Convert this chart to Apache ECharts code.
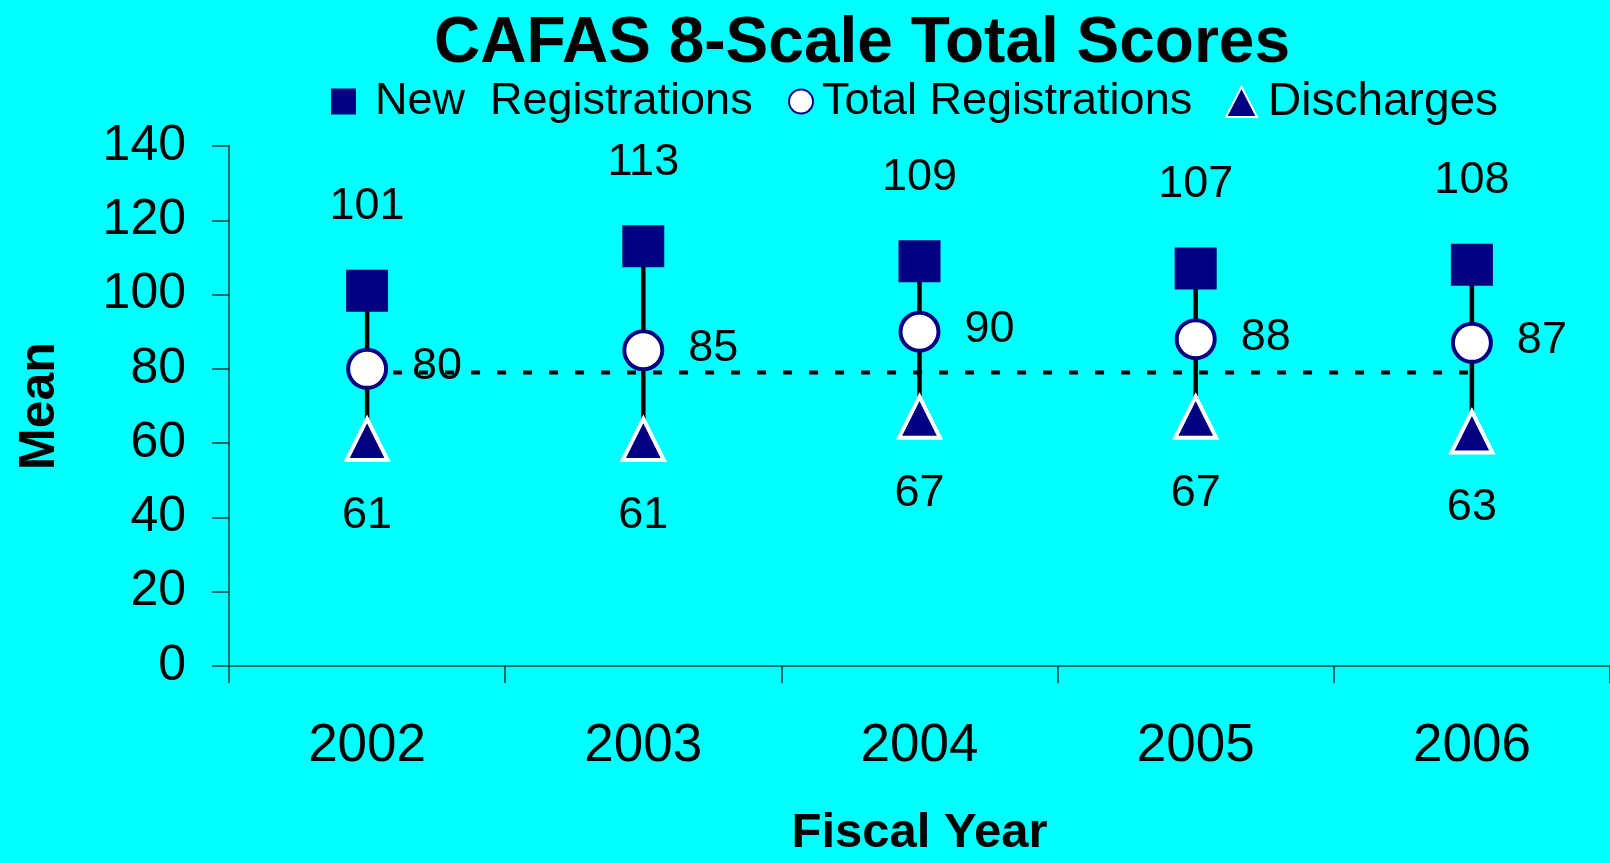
<!DOCTYPE html>
<html>
<head>
<meta charset="utf-8">
<script src="https://cdn.jsdelivr.net/npm/echarts@6/dist/echarts.min.js"></script>
<style>
html, body { margin: 0; padding: 0; background: #00ffff; }
#chart { width: 1610px; height: 863px; }
</style>
</head>
<body>
<div id="chart"></div>
<script>
// chart data
var years = ['2002', '2003', '2004', '2005', '2006'];
var newReg = [101, 113, 109, 107, 108];
var totalReg = [80, 85, 90, 88, 87];
var discharges = [61, 61, 67, 67, 63];
var refLine = [79, 79, 79, 79, 79];

var font = 'Arial, "Liberation Sans", sans-serif';
var navy = '#000080';

// vertical bars: [category index, low, high]
var connectors = years.map(function (y, i) {
  return [i, discharges[i], newReg[i]];
});

var myChart = echarts.init(document.getElementById('chart'));
myChart.setOption({
  animation: false,
  backgroundColor: '#00ffff',
  textStyle: { fontFamily: font, color: '#000' },
  title: {
    text: 'CAFAS 8-Scale Total Scores',
    left: 434,
    top: 12,
    padding: 0,
    textStyle: { fontSize: 64, fontWeight: 'bold', color: '#000', fontFamily: font }
  },
  legend: [
    {
      data: ['New  Registrations'], left: 331, top: 79, padding: 0,
      itemWidth: 25, itemHeight: 26, selectedMode: false,
      textStyle: { fontSize: 45, color: '#000', fontFamily: font, padding: [0, 0, 0, 14] }
    },
    {
      data: ['Total Registrations'], left: 788, top: 79, padding: 0,
      itemWidth: 24, itemHeight: 24, selectedMode: false,
      textStyle: { fontSize: 45, color: '#000', fontFamily: font, padding: [0, 0, 0, 4] }
    },
    {
      data: ['Discharges'], left: 1225, top: 79, padding: 0,
      itemWidth: 31, itemHeight: 30, selectedMode: false,
      textStyle: { fontSize: 46, color: '#000', fontFamily: font, padding: [0, 0, 0, 6] }
    }
  ],
  grid: { left: 229, right: -39, top: 146, bottom: 189, containLabel: false },
  xAxis: {
    type: 'category',
    data: years,
    boundaryGap: true,
    name: 'Fiscal Year',
    nameLocation: 'middle',
    nameGap: 143,
    nameTextStyle: { fontSize: 49, fontWeight: 'bold', color: '#000', fontFamily: font },
    axisLine: { lineStyle: { color: '#117070', width: 2 } },
    axisTick: { show: true, interval: 0, length: 17, lineStyle: { color: '#003c3c', width: 1.5 } },
    axisLabel: { fontSize: 53, color: '#000', margin: 54, fontFamily: font },
    splitLine: { show: false }
  },
  yAxis: {
    type: 'value',
    min: 0,
    max: 140,
    interval: 20,
    name: 'Mean',
    nameLocation: 'middle',
    nameGap: 164,
    nameTextStyle: { fontSize: 50, fontWeight: 'bold', color: '#000', fontFamily: font },
    axisLine: { show: true, lineStyle: { color: '#117070', width: 2 } },
    axisTick: { show: true, length: 17, lineStyle: { color: '#003c3c', width: 1.5 } },
    axisLabel: { fontSize: 50, color: '#000', margin: 43, fontFamily: font },
    splitLine: { show: false }
  },
  series: [
    {
      name: 'ref',
      type: 'line',
      data: refLine,
      symbol: 'none',
      z: 1,
      lineStyle: { color: '#000', width: 4, type: [9, 17] }
    },
    {
      name: 'range',
      type: 'custom',
      data: connectors,
      encode: { x: 0, y: [1, 2] },
      z: 2,
      renderItem: function (params, api) {
        var top = api.coord([api.value(0), api.value(2)]);
        var bot = api.coord([api.value(0), api.value(1)]);
        return {
          type: 'line',
          shape: { x1: top[0], y1: top[1], x2: bot[0], y2: bot[1] },
          style: { stroke: '#000', lineWidth: 4.5 }
        };
      }
    },
    {
      name: 'New  Registrations',
      type: 'scatter',
      data: newReg,
      symbol: 'rect',
      symbolSize: 42,
      z: 3,
      itemStyle: { color: navy, opacity: 1 },
      label: { show: true, position: 'inside', offset: [0, -84], fontSize: 45, color: '#000', fontFamily: font }
    },
    {
      name: 'Total Registrations',
      type: 'scatter',
      data: totalReg,
      symbol: 'circle',
      symbolSize: 38,
      z: 3,
      itemStyle: { color: '#ffffff', borderColor: navy, borderWidth: 4, opacity: 1 },
      label: { show: true, position: 'inside', offset: [70, -2], fontSize: 45, color: '#000', fontFamily: font }
    },
    {
      name: 'Discharges',
      type: 'scatter',
      data: discharges,
      symbol: 'triangle',
      symbolSize: 41,
      z: 3,
      itemStyle: { color: navy, borderColor: '#ffffff', borderWidth: 4, opacity: 1 },
      label: { show: true, position: 'inside', offset: [0, 76], fontSize: 45, color: '#000', fontFamily: font }
    }
  ]
});
</script>
</body>
</html>
